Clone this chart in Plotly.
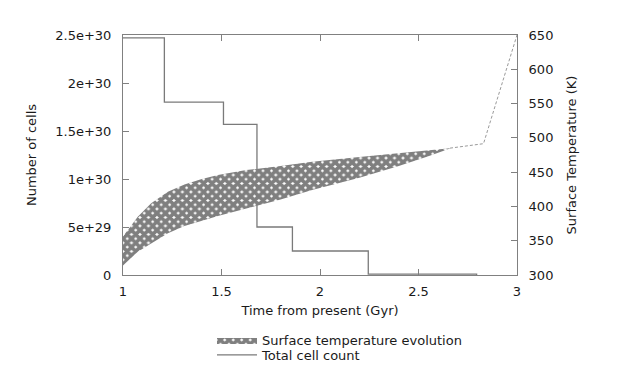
import plotly.graph_objects as go

# --- Data ---
# Total cell count (step histogram): bin left edges (Gyr) and counts
cell_time = [1.0, 1.21, 1.51, 1.68, 1.86, 2.245, 2.795]
cell_count = [2.47e30, 1.80e30, 1.57e30, 5.0e29, 2.5e29, 1.0e28, 0.0]

# Surface temperature band (K)
band_time = [1.0, 1.075, 1.143, 1.228, 1.312, 1.396, 1.482, 1.626, 1.80, 1.96, 2.2, 2.4, 2.55, 2.66]
band_upper = [356, 385, 404.5, 421.5, 432, 439.5, 446, 453, 459, 465, 472, 477.5, 481.5, 485]
band_lower = [314, 334, 346, 361, 371.5, 379, 386, 397, 410, 424, 442, 459, 473, 484.5]

# Late temperature trace (dotted)
tail_time = [2.66, 2.83, 3.0]
tail_temp = [485, 491.5, 650]

left_ticks = [0, 5e29, 1e30, 1.5e30, 2e30, 2.5e30]
left_labels = ["0", "5e+29", "1e+30", "1.5e+30", "2e+30", "2.5e+30"]
right_ticks = [300, 350, 400, 450, 500, 550, 600, 650]
x_ticks = [1, 1.5, 2, 2.5, 3]
x_labels = ["1", "1.5", "2", "2.5", "3"]

AX = "#808080"
TXT = "#1a1a1a"
FONT = "DejaVu Sans"

fig = go.Figure()

fig.add_trace(go.Scatter(
    x=band_time, y=band_lower, yaxis="y2", mode="lines",
    line=dict(width=0, color="black"), showlegend=False, hoverinfo="skip"))
fig.add_trace(go.Scatter(
    x=band_time, y=band_upper, yaxis="y2", mode="lines",
    line=dict(width=0, color="black"), fill="tonexty",
    fillcolor="black",
    fillpattern=dict(shape="x", fgcolor="black", bgcolor="white", size=6, solidity=0.85),
    name="Surface temperature evolution", legend="legend"))
fig.add_trace(go.Scatter(
    x=tail_time, y=tail_temp, yaxis="y2", mode="lines",
    line=dict(width=1, color="#9a9a9a", dash="3px,2px"), showlegend=False))
fig.add_trace(go.Scatter(
    x=cell_time, y=cell_count, mode="lines", line_shape="hv",
    line=dict(width=1.3, color="#7a7a7a"), name="Total cell count", legend="legend2"))

H, T, B = 380, 35, 5
paper_h = H - T - B
ydom0 = (105 - B) / paper_h
leg_x = (212 - 123) / 394


def leg_y(px):
    return (H - B - px) / paper_h


leg_common = dict(x=leg_x, xanchor="left", yanchor="top",
                  bgcolor="rgba(0,0,0,0)", font=dict(size=13), itemwidth=40)

fig.update_layout(
    width=633, height=H,
    margin=dict(l=123, r=116, t=T, b=B),
    paper_bgcolor="white", plot_bgcolor="white",
    font=dict(family=FONT, size=13, color=TXT),
    xaxis=dict(range=[1, 3], tickvals=x_ticks, ticktext=x_labels, automargin=False,
               anchor="y",
               showline=True, linecolor=AX, linewidth=1, mirror="ticks",
               ticks="inside", ticklen=6, tickcolor=AX, showgrid=False, zeroline=False,
               ticklabelstandoff=4,
               title=dict(text="Time from present (Gyr)", standoff=8, font=dict(size=13))),
    yaxis=dict(range=[0, 2.5e30], tickvals=left_ticks, ticktext=left_labels, automargin=False,
               domain=[ydom0, 1],
               showline=True, linecolor=AX, linewidth=1,
               ticks="inside", ticklen=6, tickcolor=AX, showgrid=False, zeroline=False,
               ticklabelstandoff=8,
               title=dict(text="Number of cells", standoff=15, font=dict(size=13))),
    yaxis2=dict(range=[300, 650], tickvals=right_ticks, overlaying="y", side="right",
                automargin=False,
                showline=True, linecolor=AX, linewidth=1,
                ticks="inside", ticklen=6, tickcolor=AX, showgrid=False, zeroline=False,
                ticklabelstandoff=8,
                title=dict(text="Surface Temperature (K)", standoff=14, font=dict(size=13))),
    legend=dict(y=leg_y(325), **leg_common),
    legend2=dict(y=leg_y(340), **leg_common),
    showlegend=True,
)

fig.write_html("out.html", config={"displayModeBar": False},
               post_script="document.body.style.margin='0';")
